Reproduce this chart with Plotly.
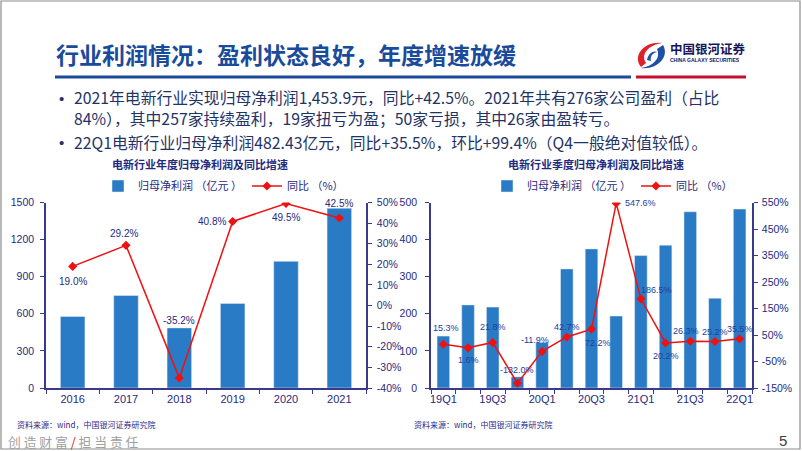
import plotly.graph_objects as go

# ---------------- data ----------------
years = ["2016", "2017", "2018", "2019", "2020", "2021"]
annual_profit = [578, 748, 486, 684, 1024, 1453.9]
annual_yoy = [19.0, 29.2, -35.2, 40.8, 49.5, 42.5]

quarters = ["19Q1", "19Q2", "19Q3", "19Q4", "20Q1", "20Q2", "20Q3",
            "20Q4", "21Q1", "21Q2", "21Q3", "21Q4", "22Q1"]
quarter_profit = [140, 224, 218, 30, 123, 321, 375, 194, 357, 385, 475, 242, 482.43]
quarter_yoy = [15.3, 1.6, 21.8, -132.0, -11.9, 42.7, 72.2, 547.6, 186.5, 20.2, 26.3, 25.2, 35.5]

annual_profit_ticks = [0, 300, 600, 900, 1200, 1500]
annual_pct_ticks = [-40, -30, -20, -10, 0, 10, 20, 30, 40, 50]
quarter_profit_ticks = [0, 100, 200, 300, 400, 500]
quarter_pct_ticks = [-150, -50, 50, 150, 250, 350, 450, 550]

# ---------------- styling helpers ----------------
W, H = 802, 451
def px(x):
    return x / W
def py(y):
    return 1 - y / H

CJK = "Noto Sans CJK SC"
NUM = "Liberation Sans, Noto Sans CJK SC"
NAVY = "#1F2A80"
AXIS = "#3A3A8C"
BAR = "#2A7BC5"
RED = "#F01010"
TITLE_BLUE = "#1A4B9B"
TEXT_DARK = "#1F3366"

fig = go.Figure()

# left chart
fig.add_trace(go.Bar(x=years, y=annual_profit, name="归母净利润 （亿元 ）",
                     marker=dict(color=BAR), xaxis="x", yaxis="y",
                     legend="legend", width=0.46))
fig.add_trace(go.Scatter(x=years, y=annual_yoy, name="同比 （%）",
                         mode="lines+markers", xaxis="x", yaxis="y2",
                         line=dict(color=RED, width=1.5),
                         marker=dict(symbol="diamond", size=7, color=RED),
                         legend="legend"))
# right chart
fig.add_trace(go.Bar(x=quarters, y=quarter_profit, name="归母净利润 （亿元 ）",
                     marker=dict(color=BAR), xaxis="x2", yaxis="y3",
                     legend="legend2", width=0.51))
fig.add_trace(go.Scatter(x=quarters, y=quarter_yoy, name="同比 （%）",
                         mode="lines+markers", xaxis="x2", yaxis="y4",
                         line=dict(color=RED, width=1.5),
                         marker=dict(symbol="diamond", size=7, color=RED),
                         legend="legend2"))

annotations = []
# data labels, left chart (x given as category index)
left_shift = [(0, -15), (-2, 12), (0, 58), (-21, 0), (0, -14), (0, 14)]
for i, (yv, (dx, dy)) in enumerate(zip(annual_yoy, left_shift)):
    annotations.append(dict(x=i, y=yv, xref="x", yref="y2", text=f"{yv:.1f}%",
                            showarrow=False, xshift=dx, yshift=dy,
                            font=dict(family=NUM, size=10, color=NAVY)))
# data labels, right chart
right_shift = [(3, 16), (0, -12), (0, 15), (0, 13), (-7, 11), (0, 10), (6, -14),
               (24, 0), (16, 9), (0, -13), (-4, 10), (0, 10), (0, 10)]
for i, (yv, (dx, dy)) in enumerate(zip(quarter_yoy, right_shift)):
    annotations.append(dict(x=i, y=yv, xref="x2", yref="y4", text=f"{yv:.1f}%",
                            showarrow=False, xshift=dx, yshift=dy,
                            font=dict(family=NUM, size=9, color="#2040A0")))

def note(x, y, text, size, color, family=CJK, xanchor="left", yanchor="middle", align="left"):
    annotations.append(dict(x=px(x), y=py(y), xref="paper", yref="paper", text=text,
                            showarrow=False, xanchor=xanchor, yanchor=yanchor, align=align,
                            font=dict(family=family, size=size, color=color)))

# slide title and bullets
note(54, 54, "<b>行业利润情况：盈利状态良好，年度增速放缓</b>", 23, TITLE_BLUE)
note(57, 98, "•", 15, TEXT_DARK, family=NUM)
note(72, 108, "2021年电新行业实现归母净利润1,453.9元，同比+42.5%。2021年共有276家公司盈利（占比"
              "<br>84%），其中257家持续盈利，19家扭亏为盈；50家亏损，其中26家由盈转亏。",
     15.8, TEXT_DARK)
note(57, 142, "•", 15, TEXT_DARK, family=NUM)
note(72, 142, "22Q1电新行业归母净利润482.43亿元，同比+35.5%，环比+99.4%（Q4一般绝对值较低）。",
     15.8, TEXT_DARK)

# chart titles
note(200, 164, "<b>电新行业年度归母净利润及同比增速</b>", 11, NAVY, xanchor="center")
note(596, 164, "<b>电新行业季度归母净利润及同比增速</b>", 11, NAVY, xanchor="center")

# sources, footer
note(15, 424, "资料来源：wind，中国银河证券研究院", 8, "#2A2A8A")
note(412, 424, "资料来源：wind，中国银河证券研究院", 8, "#2A2A8A")
note(6, 441, "创 造 财 富 <span style='color:#D01818'>/</span> 担 当 责 任", 12.8, "#A0A0A0")
note(789, 440, "5", 15, "#404040", family=NUM, xanchor="right")

# logo text
note(668, 48, "<b>中国银河证券</b>", 12.5, "#15155A")
note(668, 60, "<b>CHINA GALAXY SECURITIES</b>", 5, "#15155A", family=NUM)

def path_px(cmds):
    out = []
    for c in cmds:
        if isinstance(c, str):
            out.append(c)
        else:
            out.append(f"{px(c[0]):.5f},{py(c[1]):.5f}")
    return " ".join(out)

shapes = [
    dict(type="rect", xref="paper", yref="paper", x0=px(1), x1=px(800), y0=py(449), y1=py(1),
         line=dict(color="#8C8C8C", width=1.2), fillcolor="rgba(0,0,0,0)"),
    dict(type="line", xref="paper", yref="paper", x0=px(55), x1=px(631), y0=py(77), y1=py(77),
         line=dict(color=TITLE_BLUE, width=3)),
    dict(type="line", xref="paper", yref="paper", x0=px(636), x1=px(746), y0=py(77), y1=py(77),
         line=dict(color="#C8102E", width=3)),
    dict(type="path", xref="paper", yref="paper", line=dict(width=0), fillcolor="#E0202A",
         path=path_px(["M", (641, 67), "C", (632, 56), (644, 41), (662, 43),
                       "C", (649, 45), (640, 54), (646, 63), "Z"])),
    dict(type="path", xref="paper", yref="paper", line=dict(width=0), fillcolor="#1F4FA8",
         path=path_px(["M", (663, 45), "C", (670, 57), (657, 70), (641, 68),
                       "C", (654, 66), (661, 58), (657, 49), "Z"])),
    dict(type="path", xref="paper", yref="paper", line=dict(width=0), fillcolor="#1F4FA8",
         path=path_px(["M", (647, 60), "C", (648, 53), (654, 50), (657, 52),
                       "C", (652, 53), (650, 57), (651, 61), "Z"])),
]

ax_common = dict(showline=True, linecolor=AXIS, linewidth=1.5, showgrid=False, zeroline=False,
                 ticks="outside", ticklen=4, tickcolor=AXIS, tickwidth=1, automargin=False)

Y0, Y1 = py(388), py(202.5)

def pct_text(vals):
    return [f"{v}%" for v in vals]

fig.update_layout(
    width=W, height=H, margin=dict(l=0, r=0, t=0, b=0, pad=0, autoexpand=False),
    paper_bgcolor="white", plot_bgcolor="rgba(0,0,0,0)",
    bargap=0.5, showlegend=True,
    xaxis=dict(domain=[px(46), px(366)], anchor="y", type="category", tickson="boundaries",
               range=[-0.5, len(years) - 0.5], autorange=False, tickangle=0,
               tickfont=dict(family=NUM, size=11, color=NAVY), **ax_common),
    yaxis=dict(domain=[Y0, Y1], anchor="x", range=[0, 1500], tickvals=annual_profit_ticks,
               tickfont=dict(family=NUM, size=10.5, color=NAVY), ticklabelstandoff=4, **ax_common),
    yaxis2=dict(overlaying="y", anchor="x", side="right", range=[-40, 50],
                tickvals=annual_pct_ticks, ticktext=pct_text(annual_pct_ticks),
                tickfont=dict(family=NUM, size=10.5, color=NAVY), ticklabelstandoff=3, **ax_common),
    xaxis2=dict(domain=[px(431), px(752)], anchor="y3", type="category", tickson="boundaries",
                range=[-0.5, len(quarters) - 0.5], autorange=False, tickangle=0,
                tickvals=quarters,
                ticktext=[q if i % 2 == 0 else "" for i, q in enumerate(quarters)],
                tickfont=dict(family=NUM, size=11, color=NAVY), **ax_common),
    yaxis3=dict(domain=[Y0, Y1], anchor="x2", range=[0, 500], tickvals=quarter_profit_ticks,
                tickfont=dict(family=NUM, size=10.5, color=NAVY), ticklabelstandoff=6, **ax_common),
    yaxis4=dict(overlaying="y3", anchor="x2", side="right", range=[-150, 550],
                tickvals=quarter_pct_ticks, ticktext=pct_text(quarter_pct_ticks),
                tickfont=dict(family=NUM, size=10.5, color=NAVY), ticklabelstandoff=2, **ax_common),
    legend=dict(orientation="h", x=px(98), y=py(186), xanchor="left", yanchor="middle",
                bgcolor="rgba(0,0,0,0)", font=dict(family=CJK, size=11, color=NAVY),
                itemwidth=30, tracegroupgap=0),
    legend2=dict(orientation="h", x=px(487), y=py(186), xanchor="left", yanchor="middle",
                 bgcolor="rgba(0,0,0,0)", font=dict(family=CJK, size=11, color=NAVY),
                 itemwidth=30, tracegroupgap=0),
    annotations=annotations,
    shapes=shapes,
)

fig.write_html("out.html", config={"displayModeBar": False},
               post_script="document.body.style.margin='0';document.body.style.overflow='hidden';")
